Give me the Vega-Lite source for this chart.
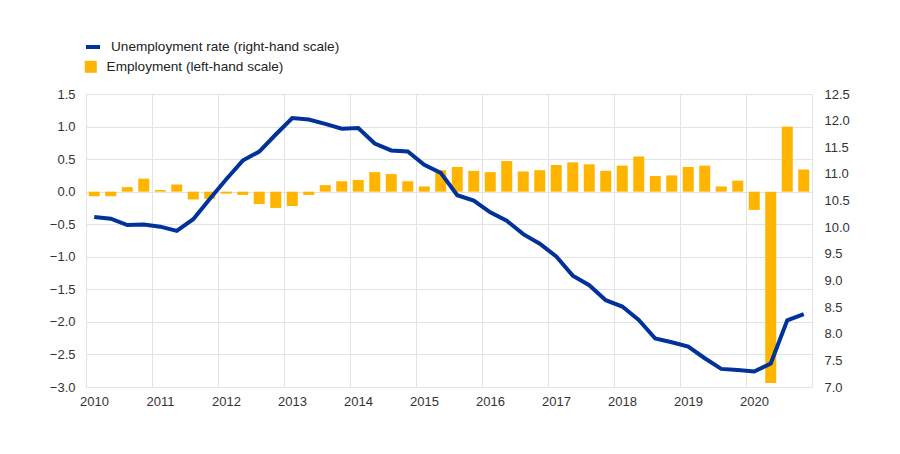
{
  "$schema": "https://vega.github.io/schema/vega-lite/v6.json",
  "autosize": "none",
  "width": 726,
  "height": 293,
  "padding": {"left": 86, "top": 94, "right": 88, "bottom": 67},
  "background": "white",
  "config": {
    "view": {"stroke": null},
    "axis": {"labelFont": "Liberation Sans", "labelFontSize": 13, "labelColor": "#333333", "gridColor": "#e3e3e3", "gridWidth": 1, "domain": false, "ticks": false},
    "legend": {"labelFont": "Liberation Sans", "labelFontSize": 13.6, "labelColor": "#222222", "labelLimit": 400}
  },
  "data": {
    "values": [
      {"t": 2010.125, "emp": -0.07, "unemp": 10.19},
      {"t": 2010.375, "emp": -0.07, "unemp": 10.16},
      {"t": 2010.625, "emp": 0.07, "unemp": 10.04},
      {"t": 2010.875, "emp": 0.2, "unemp": 10.05},
      {"t": 2011.125, "emp": 0.025, "unemp": 10.01},
      {"t": 2011.375, "emp": 0.11, "unemp": 9.93},
      {"t": 2011.625, "emp": -0.12, "unemp": 10.15},
      {"t": 2011.875, "emp": -0.11, "unemp": 10.53},
      {"t": 2012.125, "emp": -0.03, "unemp": 10.9},
      {"t": 2012.375, "emp": -0.05, "unemp": 11.25},
      {"t": 2012.625, "emp": -0.19, "unemp": 11.42},
      {"t": 2012.875, "emp": -0.25, "unemp": 11.74},
      {"t": 2013.125, "emp": -0.22, "unemp": 12.05},
      {"t": 2013.375, "emp": -0.05, "unemp": 12.02},
      {"t": 2013.625, "emp": 0.1, "unemp": 11.94},
      {"t": 2013.875, "emp": 0.16, "unemp": 11.85},
      {"t": 2014.125, "emp": 0.18, "unemp": 11.86},
      {"t": 2014.375, "emp": 0.3, "unemp": 11.57},
      {"t": 2014.625, "emp": 0.27, "unemp": 11.44},
      {"t": 2014.875, "emp": 0.16, "unemp": 11.42},
      {"t": 2015.125, "emp": 0.08, "unemp": 11.17},
      {"t": 2015.375, "emp": 0.33, "unemp": 11.02},
      {"t": 2015.625, "emp": 0.38, "unemp": 10.6},
      {"t": 2015.875, "emp": 0.32, "unemp": 10.5},
      {"t": 2016.125, "emp": 0.3, "unemp": 10.28},
      {"t": 2016.375, "emp": 0.47, "unemp": 10.12},
      {"t": 2016.625, "emp": 0.31, "unemp": 9.87},
      {"t": 2016.875, "emp": 0.33, "unemp": 9.69},
      {"t": 2017.125, "emp": 0.41, "unemp": 9.45},
      {"t": 2017.375, "emp": 0.45, "unemp": 9.09},
      {"t": 2017.625, "emp": 0.42, "unemp": 8.91},
      {"t": 2017.875, "emp": 0.32, "unemp": 8.63},
      {"t": 2018.125, "emp": 0.4, "unemp": 8.51},
      {"t": 2018.375, "emp": 0.54, "unemp": 8.26},
      {"t": 2018.625, "emp": 0.24, "unemp": 7.91},
      {"t": 2018.875, "emp": 0.25, "unemp": 7.84},
      {"t": 2019.125, "emp": 0.38, "unemp": 7.76},
      {"t": 2019.375, "emp": 0.4, "unemp": 7.54},
      {"t": 2019.625, "emp": 0.08, "unemp": 7.34},
      {"t": 2019.875, "emp": 0.17, "unemp": 7.32},
      {"t": 2020.125, "emp": -0.28, "unemp": 7.29},
      {"t": 2020.375, "emp": -2.94, "unemp": 7.44},
      {"t": 2020.625, "emp": 1.0, "unemp": 8.25},
      {"t": 2020.875, "emp": 0.34, "unemp": 8.37}
    ]
  },
  "encoding": {
    "x": {
      "field": "t", "type": "quantitative",
      "scale": {"domain": [2010, 2021], "nice": false, "zero": false, "padding": 0},
      "axis": {"title": null, "values": [2010, 2011, 2012, 2013, 2014, 2015, 2016, 2017, 2018, 2019, 2020, 2021], "format": "d", "labelExpr": "datum.value == 2021 ? '' : datum.label", "labelOffset": 8, "labelPadding": 8, "labelFlush": false, "labelOverlap": false}
    }
  },
  "layer": [
    {
      "mark": {"type": "bar", "size": 11, "color": "#FFB400"},
      "encoding": {
        "y": {
          "field": "emp", "type": "quantitative",
          "scale": {"domain": [-3, 1.5], "nice": false},
          "axis": {"title": null, "orient": "left", "values": [-3, -2.5, -2, -1.5, -1, -0.5, 0, 0.5, 1, 1.5], "format": ".1f", "labelPadding": 11}
        },
        "fill": {
          "datum": "Employment (left-hand scale)",
          "scale": {"range": ["#FFB400"]},
          "legend": {"title": null, "orient": "none", "legendX": -2, "legendY": -34, "symbolType": "square", "symbolSize": 144, "labelOffset": 9, "symbolStrokeWidth": 0}
        }
      }
    },
    {
      "mark": {"type": "line", "color": "#003299", "strokeWidth": 4},
      "encoding": {
        "y": {
          "field": "unemp", "type": "quantitative",
          "scale": {"domain": [7, 12.5], "nice": false, "zero": false},
          "axis": {"title": null, "orient": "right", "values": [7, 7.5, 8, 8.5, 9, 9.5, 10, 10.5, 11, 11.5, 12, 12.5], "format": ".1f", "grid": false, "labelPadding": 12}
        },
        "stroke": {
          "datum": "Unemployment rate (right-hand scale)",
          "scale": {"range": ["#003299"]},
          "legend": {"title": null, "orient": "none", "legendX": -2, "legendY": -56, "symbolType": "stroke", "symbolStrokeWidth": 4, "symbolSize": 196, "labelOffset": 9}
        }
      }
    }
  ],
  "resolve": {"scale": {"y": "independent", "fill": "independent", "stroke": "independent"}}
}
